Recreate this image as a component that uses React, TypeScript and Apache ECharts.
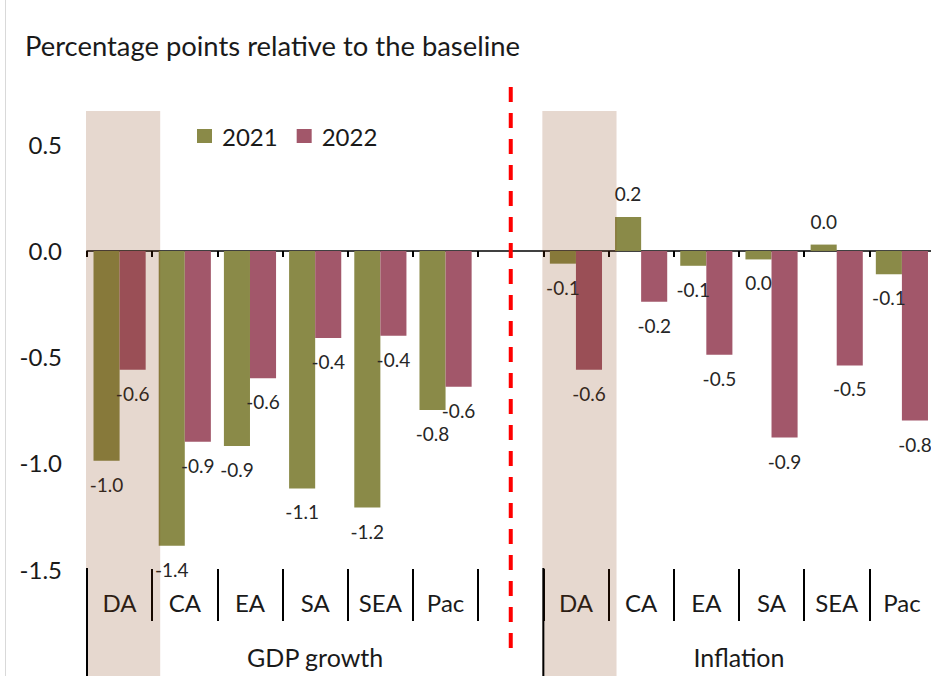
import React, { useEffect, useRef } from 'react';
import * as echarts from 'echarts';

const FONT = 'Lato, "Noto Sans", "DejaVu Sans", sans-serif';
const TITLE = 'Percentage points relative to the baseline';
const seriesNames = ['2021', '2022'];
const categories = ['DA', 'CA', 'EA', 'SA', 'SEA', 'Pac', '', 'DA', 'CA', 'EA', 'SA', 'SEA', 'Pac'];
const values2021 = [-0.99, -1.39, -0.92, -1.12, -1.21, -0.75, null, -0.06, 0.16, -0.07, -0.04, 0.03, -0.11];
const values2022 = [-0.56, -0.9, -0.6, -0.41, -0.4, -0.64, null, -0.56, -0.24, -0.49, -0.88, -0.54, -0.8];
const groupLabels = ['GDP growth', 'Inflation'];
const groupBounds = [[0, 7], [7, 13]]; // category index ranges [start, end)
const highlighted = [0, 7]; // DA columns
const separatorIndex = 6;
const yMin = -1.5;
const yMax = 0.66;
const yInterval = 0.5;

const TEXT = '#1a1a1a';

export default function App() {
  const ref = useRef<HTMLDivElement>(null);
  useEffect(() => {
    const chart = echarts.init(ref.current!, null, { renderer: 'svg' });
    const labelFmt = (p: any) => {
      const v = p.value;
      if (v == null || v === '-') return '';
      return Math.abs(v) < 0.05 ? '0.0' : Number(v).toFixed(1);
    };
    const mkSeries = (name: string, data: any[], color: string) => ({
      name,
      type: 'bar',
      xAxisIndex: 0,
      yAxisIndex: 0,
      data,
      barGap: '0%',
      barCategoryGap: '20%',
      itemStyle: { color },
      label: {
        show: true,
        position: 'outside',
        distance: 14,
        fontSize: 19,
        fontFamily: FONT,
        color: '#262626',
        formatter: labelFmt,
      },
    });
    chart.setOption({
      animation: false,
      textStyle: { fontFamily: FONT },
      title: {
        text: TITLE,
        left: 25,
        top: 32,
        padding: 0,
        textStyle: { fontSize: 27.4, fontWeight: 'normal', color: TEXT, fontFamily: FONT },
      },
      legend: {
        data: seriesNames,
        left: 197,
        top: 124,
        padding: 0,
        icon: 'rect',
        itemWidth: 15,
        itemHeight: 14,
        itemGap: 19,
        textStyle: { fontSize: 24, color: TEXT, fontFamily: FONT, padding: [0, 0, 0, 5] },
      },
      grid: { left: 87, right: 5.5, top: 111, bottom: 107, containLabel: false },
      xAxis: [
        {
          type: 'category',
          data: categories,
          position: 'top',
          axisLine: { onZero: true, lineStyle: { color: '#000', width: 1.5 } },
          axisTick: { show: true, inside: true, length: 6, interval: 0, lineStyle: { color: '#000', width: 2 } },
          axisLabel: { show: false },
          splitLine: { show: false },
        },
        {
          type: 'category',
          data: categories,
          position: 'bottom',
          axisLine: { show: false, onZero: false },
          axisTick: { show: true, length: 52, interval: 0, lineStyle: { color: '#000', width: 2 } },
          axisLabel: { show: true, interval: 0, margin: 21, fontSize: 24, color: TEXT, fontFamily: FONT },
          splitLine: { show: false },
        },
      ],
      yAxis: {
        type: 'value',
        min: yMin,
        max: yMax,
        interval: yInterval,
        axisLine: { show: false },
        axisTick: { show: false },
        splitLine: { show: false },
        axisLabel: {
          margin: 25,
          fontSize: 24,
          color: TEXT,
          fontFamily: FONT,
          formatter: (v: number) =>
            Math.abs(v / yInterval - Math.round(v / yInterval)) > 1e-6 ? '' : v.toFixed(1),
        },
      },
      series: [mkSeries(seriesNames[0], values2021, '#8A8A48'), mkSeries(seriesNames[1], values2022, '#A2576A')],
    });

    const xc = (i: number) => chart.convertToPixel({ xAxisIndex: 0 }, i) as number;
    const yp = (v: number) => chart.convertToPixel({ yAxisIndex: 0 }, v) as number;
    const bw = xc(1) - xc(0);
    const bound = (i: number) => xc(0) + (i - 0.5) * bw;
    const top = yp(yMax);
    const bottomAxis = yp(yMin);
    const H = 676;
    const graphics: any[] = [];
    graphics.push({
      type: 'line',
      z: 50,
      shape: { x1: 5.5, y1: 0, x2: 5.5, y2: H },
      style: { stroke: '#d9d9d9', lineWidth: 1 },
    });
    highlighted.forEach((i) => {
      graphics.push({
        type: 'rect',
        z: 100,
        shape: { x: bound(i) - 1, y: top, width: bw + 9, height: H - top },
        style: { fill: 'rgba(123,50,2,0.19)' },
      });
    });
    const sx = xc(separatorIndex);
    graphics.push({
      type: 'line',
      z: 100,
      shape: { x1: sx, y1: 87, x2: sx, y2: 655 },
      style: { stroke: '#FF0000', lineWidth: 4, lineDash: [15, 11] },
    });
    const longTicks = [groupBounds[0][0], groupBounds[1][0], groupBounds[1][1]];
    longTicks.forEach((b) => {
      const x = bound(b);
      graphics.push({
        type: 'line',
        z: 100,
        shape: { x1: x, y1: bottomAxis - 1, x2: x, y2: H },
        style: { stroke: '#000', lineWidth: 2 },
      });
    });
    groupBounds.forEach((g, k) => {
      graphics.push({
        type: 'text',
        z: 100,
        x: (bound(g[0]) + bound(g[1])) / 2,
        y: 657,
        style: {
          text: groupLabels[k],
          fontSize: 25,
          fontFamily: FONT,
          fill: TEXT,
          textAlign: 'center',
          textVerticalAlign: 'middle',
        },
      });
    });
    chart.setOption({ graphic: { elements: graphics } });

    return () => chart.dispose();
  }, []);

  return (
    <div style={{ position: 'fixed', left: 0, top: 0, width: 931, height: 676, overflow: 'hidden', background: '#fff' }}>
      <div ref={ref} style={{ width: 940, height: 676 }} />
    </div>
  );
}
